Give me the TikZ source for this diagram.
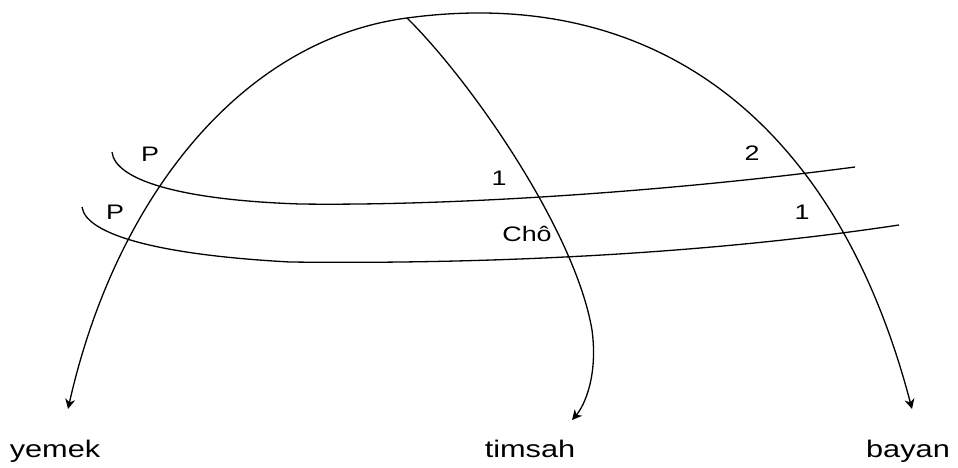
\documentclass[tikz,border=0pt]{standalone}
\usepackage{fontspec}
\setmainfont{Liberation Sans}[FakeStretch=1.28]
\usetikzlibrary{arrows.meta}

\tikzset{
  arc/.style={line width=1.3pt},
  tip/.style={-{Stealth[length=10pt,width=10pt]}},
  big/.style={font=\fontsize{24}{28}\selectfont, inner sep=0pt, anchor=base},
  small/.style={font=\fontsize{21}{25}\selectfont, inner sep=0pt}
}

\begin{document}
\begin{tikzpicture}[x=1pt,y=-1pt]
  \useasboundingbox (0,0) rectangle (958,468);
  % bottom labels and arrow ends
  \node[big] (yemek) at (55,457) {yemek};
  \node[big] (timsah) at (530,457) {timsah};
  \node[big] (bayan) at (908,457) {bayan};
  \coordinate (yemekend) at (68,409);
  \coordinate (timsahend) at (572,420);
  \coordinate (bayanend) at (912,409);
  \coordinate (top) at (407,18);
  % big arc
  \draw[arc,tip] (top) .. controls (240,40) and (115,200) .. (yemekend);
  \draw[arc,tip] (top) .. controls (650,-15) and (835,115) .. (bayanend);
  % middle branch
  \coordinate (bend) at (592,330);
  \draw[arc] (top) .. controls (470,80) and (575,230) .. (bend);
  \draw[arc,tip] (bend) .. controls (598,375) and (585,405) .. (timsahend);
  % upper cross line
  \coordinate (upa) at (112,152);
  \coordinate (upm) at (300,204);
  \coordinate (upb) at (855,167);
  \draw[arc] (upa) .. controls (115,180) and (180,200) .. (upm)
    .. controls (450,206) and (665,192) .. (upb);
  % lower cross line
  \coordinate (loa) at (82,207);
  \coordinate (lom) at (290,262);
  \coordinate (lob) at (899,225);
  \draw[arc] (loa) .. controls (86,235) and (160,255) .. (lom)
    .. controls (450,264) and (680,258) .. (lob);
  % angle labels
  \node[small] (p1) at (150,154) {P};
  \node[small] (p2) at (115,212) {P};
  \node[small] (n1) at (499,178) {1};
  \node[small] (cho) at (527,234) {Chô};
  \node[small] (n2) at (752,153) {2};
  \node[small] (n3) at (802,212) {1};
\end{tikzpicture}
\end{document}
